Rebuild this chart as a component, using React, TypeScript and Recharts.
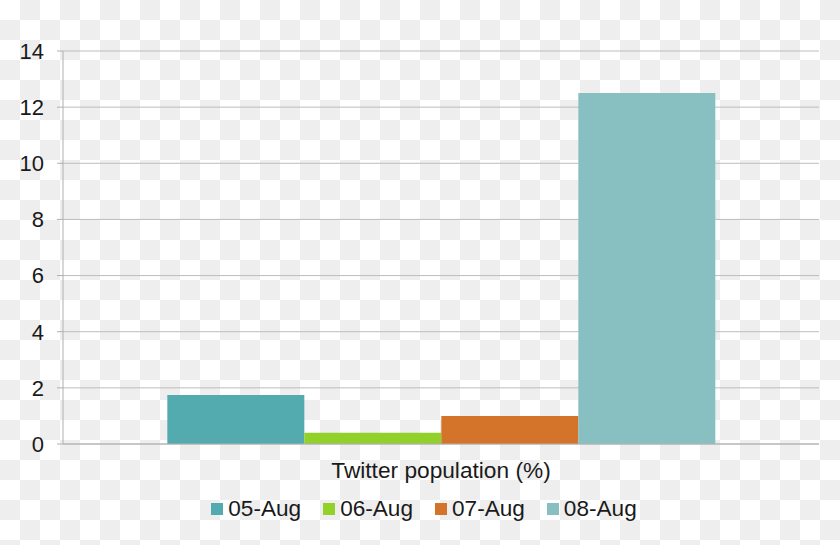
import React from 'react';
import { BarChart, Bar, XAxis, YAxis, CartesianGrid, Legend } from 'recharts';

const categories = ['Twitter population (%)'];
const seriesNames = ['05-Aug', '06-Aug', '07-Aug', '08-Aug'];
const seriesValues = [1.75, 0.4, 1.0, 12.5];
const seriesColors = ['#53AAAF', '#92D02A', '#D4742A', '#88C0C2'];
const yTicks = [0, 2, 4, 6, 8, 10, 12, 14];

const data = categories.map((name) => {
  const row: Record<string, string | number> = { name };
  seriesNames.forEach((s, i) => {
    row[s] = seriesValues[i];
  });
  return row;
});

const FONT = '"Liberation Sans", Arial, sans-serif';

const LegendContent = (props: any) => {
  const payload = props.payload || [];
  return (
    <div
      style={{
        display: 'flex',
        justifyContent: 'center',
        alignItems: 'center',
        height: 30,
        paddingLeft: 8,
        fontFamily: FONT,
        fontSize: 22.6,
        color: '#1a1a1a',
      }}
    >
      {payload.map((p: any, i: number) => (
        <div
          key={i}
          style={{
            display: 'flex',
            alignItems: 'center',
            marginLeft: i === 0 ? 0 : 22,
          }}
        >
          <span
            style={{
              display: 'inline-block',
              width: 12,
              height: 12,
              background: p.color,
              marginRight: 5,
            }}
          />
          <span style={{ lineHeight: '30px' }}>{p.value}</span>
        </div>
      ))}
    </div>
  );
};

export default function App() {
  return (
    <div
      style={{
        position: 'absolute',
        left: 0,
        top: 0,
        width: 840,
        height: 545,
        background:
          'repeating-conic-gradient(#EEEEEE 0% 25%, #FFFFFF 0% 50%) 0 0 / 40px 40px',
      }}
    >
      <BarChart
        width={840}
        height={545}
        data={data}
        margin={{ top: 51, right: 21, bottom: 21, left: 0 }}
        barCategoryGap="13.8%"
        barGap={0}
      >
        <CartesianGrid vertical={false} stroke="#BDBDBD" strokeWidth={1} />
        <XAxis
          dataKey="name"
          height={50}
          axisLine={{ stroke: '#B0B0B0' }}
          tickLine={false}
          tickSize={6}
          tickMargin={12}
          tick={{ fill: '#1a1a1a', fontSize: 22.7, fontFamily: FONT }}
        />
        <YAxis
          width={63}
          domain={[0, 14]}
          ticks={yTicks}
          interval={0}
          axisLine={{ stroke: '#B0B0B0' }}
          tickLine={{ stroke: '#B0B0B0' }}
          tickSize={6}
          tickMargin={13}
          tick={{ fill: '#1a1a1a', fontSize: 22, fontFamily: FONT }}
        />
        <Legend
          verticalAlign="bottom"
          height={30}
          wrapperStyle={{ left: 0, width: 840 }}
          content={<LegendContent />}
        />
        {seriesNames.map((s, i) => (
          <Bar key={s} dataKey={s} fill={seriesColors[i]} isAnimationActive={false} />
        ))}
      </BarChart>
    </div>
  );
}
